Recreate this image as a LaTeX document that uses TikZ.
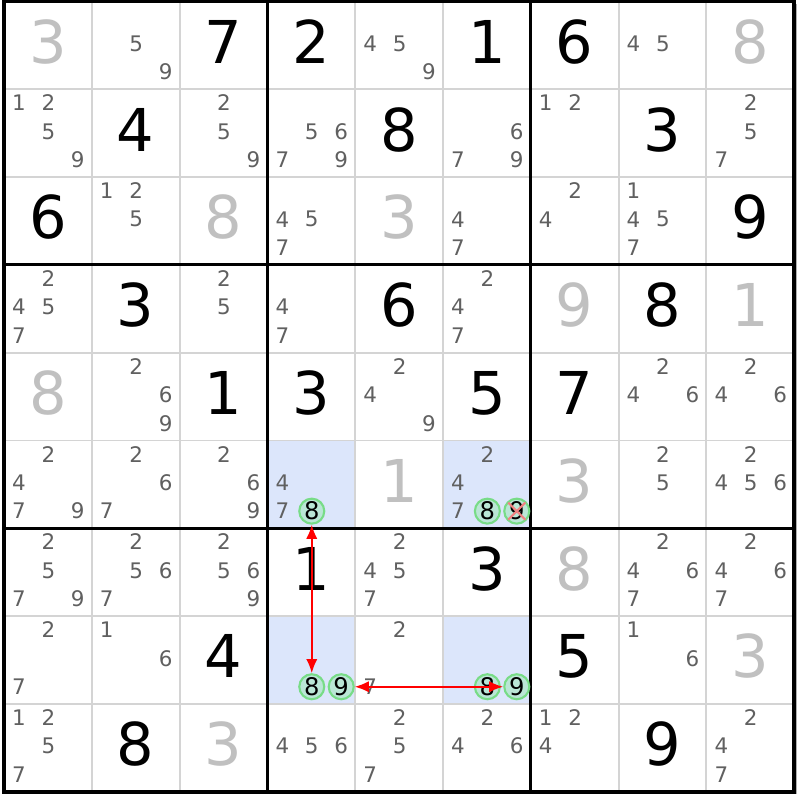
\documentclass[tikz,border=0pt]{standalone}
\usepackage{fontspec}
\setmainfont{DejaVu Sans}
\usetikzlibrary{arrows.meta, positioning}
\definecolor{candgray}{RGB}{96,96,96}
\definecolor{solvedgray}{RGB}{192,192,192}
\definecolor{gridgray}{RGB}{212,212,212}
\definecolor{shadowgray}{RGB}{175,175,175}
\definecolor{paleblue}{RGB}{220,230,251}
\definecolor{pickgreen}{RGB}{120,220,135}
\definecolor{pickfill}{RGB}{186,230,214}
\definecolor{strikered}{RGB}{240,130,130}
\tikzset{x = 0.878cm, y = -0.878cm,
         given/.style = {font = \fontsize{16.8}{18}\selectfont, inner sep = 0pt},
         solved/.style = {given, text = solvedgray},
         cand/.style = {font = \fontsize{6.1}{7}\selectfont, text = candgray, inner sep = 0pt},
         pick/.style = {circle, draw = pickgreen, fill = pickfill, line width = 0.6pt,
                        minimum size = 0.25cm, inner sep = 0pt,
                        font = \fontsize{6.9}{8}\selectfont},
         thinline/.style = {draw = gridgray, line width = 0.55pt},
         boxline/.style = {draw = black, line width = 0.85pt},
         link/.style = {red, line width = 0.55pt,
                        {Latex[length = 4pt, width = 3.2pt]}-{Latex[length = 4pt, width = 3.2pt]}},
         strike/.style = {strikered, line width = 0.6pt, shorten >= 0.4pt, shorten <= 0.4pt}}

\begin{document}
\begin{tikzpicture}
        \useasboundingbox (-0.046,-0.017) rectangle (9.066,9.095);

        % board
        \fill[shadowgray] (0.03,0.03) rectangle (9.03,9.03);
        \fill[white] (0,0) rectangle (9,9);
        \foreach \r/\c in {5/3, 5/5, 7/3, 7/5}
            \fill[paleblue] (\c,\r) rectangle ++(1,1);
        \foreach \i in {1,2,4,5,7,8} {
            \draw[thinline] (\i,0) -- (\i,9);
            \draw[thinline] (0,\i) -- (9,\i);
        }
        \foreach \i in {3,6} {
            \draw[boxline] (\i,0) -- (\i,9);
            \draw[boxline] (0,\i) -- (9,\i);
        }
        \draw[black, line width = 1.1pt] (0,0) rectangle (9,9);

        % givens and solved cells
        \foreach \r/\c/\d in {0/2/7, 0/3/2, 0/5/1, 0/6/6, 1/1/4, 1/4/8, 1/7/3,
                              2/0/6, 2/8/9, 3/1/3, 3/4/6, 3/7/8, 4/2/1, 4/3/3,
                              4/5/5, 4/6/7, 6/3/1, 6/5/3, 7/2/4, 7/6/5, 8/1/8, 8/7/9}
            \node[given] (g-\r-\c) at (\c+0.5,\r+0.46) {\d};
        \foreach \r/\c/\d in {0/0/3, 0/8/8, 2/2/8, 2/4/3, 3/6/9, 3/8/1,
                              4/0/8, 5/4/1, 5/6/3, 6/6/8, 7/8/3, 8/2/3}
            \node[solved] (s-\r-\c) at (\c+0.5,\r+0.46) {\d};

        % candidates
        \foreach \r/\c/\ds in {0/1/{5,9}, 0/4/{4,5,9}, 0/7/{4,5},
                               1/0/{1,2,5,9}, 1/2/{2,5,9}, 1/3/{5,6,7,9}, 1/5/{6,7,9}, 1/6/{1,2}, 1/8/{2,5,7},
                               2/1/{1,2,5}, 2/3/{4,5,7}, 2/5/{4,7}, 2/6/{2,4}, 2/7/{1,4,5,7},
                               3/0/{2,4,5,7}, 3/2/{2,5}, 3/3/{4,7}, 3/5/{2,4,7},
                               4/1/{2,6,9}, 4/4/{2,4,9}, 4/7/{2,4,6}, 4/8/{2,4,6},
                               5/0/{2,4,7,9}, 5/1/{2,6,7}, 5/2/{2,6,9}, 5/3/{4,7}, 5/5/{2,4,7}, 5/7/{2,5}, 5/8/{2,4,5,6},
                               6/0/{2,5,7,9}, 6/1/{2,5,6,7}, 6/2/{2,5,6,9}, 6/4/{2,4,5,7}, 6/7/{2,4,6,7}, 6/8/{2,4,6,7},
                               7/0/{2,7}, 7/1/{1,6}, 7/4/{2,7}, 7/7/{1,6},
                               8/0/{1,2,5,7}, 8/3/{4,5,6}, 8/4/{2,5,7}, 8/5/{2,4,6}, 8/6/{1,2,4}, 8/8/{2,4,7}}
            \foreach \d in \ds {
                \pgfmathsetmacro\cx{\c+0.17+0.335*mod(\d-1,3)}
                \pgfmathsetmacro\cy{\r+0.155+0.325*int((\d-1)/3)}
                \node[cand] (n-\r-\c-\d) at (\cx,\cy) {\d};
            }

        % picked candidates
        \foreach \r/\c/\d in {5/3/8, 5/5/8, 5/5/9, 7/3/8, 7/3/9, 7/5/8, 7/5/9} {
            \pgfmathsetmacro\cx{\c+0.17+0.335*mod(\d-1,3)}
            \node[pick] (n-\r-\c-\d) at (\cx,\r+0.805) {\d};
        }
        \draw[strike] (n-5-5-9.135) -- (n-5-5-9.-45);
        \draw[strike] (n-5-5-9.45)  -- (n-5-5-9.-135);

        % links
        \draw[link] (n-5-3-8) -- (n-7-3-8);
        \draw[link] (n-7-3-9) -- (n-7-5-9);
\end{tikzpicture}
\end{document}
